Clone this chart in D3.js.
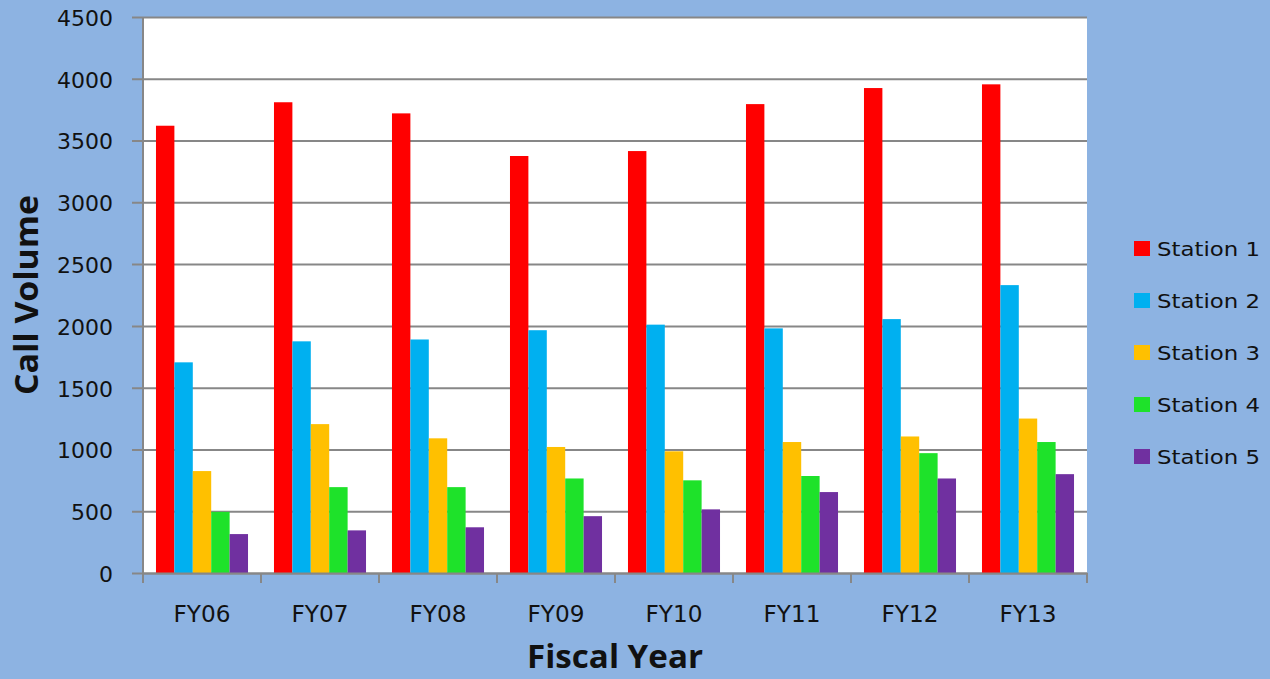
<!DOCTYPE html>
<html>
<head>
<meta charset="utf-8">
<script src="https://cdn.jsdelivr.net/npm/d3@7"></script>
<style>
	body { margin: 0; background: #8DB3E2; }
	svg { display: block; }
</style>
</head>
<body>
<div id="chart"></div>
<script>
const years = ["FY06", "FY07", "FY08", "FY09", "FY10", "FY11", "FY12", "FY13"]
const stations = ["Station 1", "Station 2", "Station 3", "Station 4", "Station 5"]
const station1 = [3620, 3810, 3720, 3375, 3415, 3795, 3925, 3955]
const station2 = [1705, 1875, 1890, 1965, 2010, 1980, 2055, 2330]
const station3 = [825, 1205, 1090, 1020, 985, 1060, 1105, 1250]
const station4 = [495, 695, 695, 765, 750, 785, 970, 1060]
const station5 = [315, 345, 370, 460, 515, 655, 765, 800]
const y_ticks = [0, 500, 1000, 1500, 2000, 2500, 3000, 3500, 4000, 4500]
const colours = ["#FF0000", "#00B0F0", "#FFC000", "#1EE22A", "#7030A0"]

const width = 1270
const height = 679
const plot_left = 143
const plot_right = 1087
const plot_top = 17
const plot_bottom = 573

var series = [station1, station2, station3, station4, station5]
var rows = []
years.forEach((yr, i) => {
	stations.forEach((st, j) => {
		rows.push({year: yr, station: st, value: series[j][i]})
	})
})

var svg = d3.select("#chart")
	.append("svg")
	.attr("width", width)
	.attr("height", height);

svg.append("rect")
	.attr("width", width)
	.attr("height", height)
	.attr("fill", "#8DB3E2");

var x0 = d3.scaleBand()
	.domain(years)
	.range([plot_left, plot_right])
	.padding(0);

var x1 = d3.scaleBand()
	.domain(stations)
	.range([x0.bandwidth()*0.11, x0.bandwidth()*0.89])
	.padding(0);

var y = d3.scaleLinear()
	.domain([0, 4500])
	.range([plot_bottom, plot_top]);

var colour = d3.scaleOrdinal()
	.domain(stations)
	.range(colours);

// white plot area
svg.append("rect")
	.attr("x", plot_left)
	.attr("y", plot_top)
	.attr("width", plot_right-plot_left)
	.attr("height", plot_bottom-plot_top)
	.attr("fill", "white");

// y axis: gridlines plus outside ticks
var yaxis = svg.append("g")
	.attr("transform", `translate(${plot_left},0)`)
	.call(d3.axisLeft(y)
		.tickValues(y_ticks)
		.tickSizeInner(-(plot_right-plot_left))
		.tickSizeOuter(0)
		.tickPadding(30)
		.tickFormat(d3.format("d")));
yaxis.select(".domain").remove();
yaxis.selectAll(".tick line")
	.attr("x1", -11)
	.attr("stroke", "#878787")
	.attr("stroke-width", 2);
yaxis.selectAll(".tick text")
	.attr("font-family", "DejaVu Sans")
	.attr("font-size", "22px")
	.attr("fill", "#111")
	.attr("dy", "0.38em");

// bars
svg.append("g")
	.selectAll("rect")
	.data(rows)
	.enter().append("rect")
	.attr("x", d => x0(d.year)+x1(d.station))
	.attr("y", d => y(d.value))
	.attr("width", x1.bandwidth())
	.attr("height", d => y(0)-y(d.value))
	.attr("fill", d => colour(d.station));

// left axis line
svg.append("line")
	.attr("x1", plot_left)
	.attr("x2", plot_left)
	.attr("y1", plot_top)
	.attr("y2", plot_bottom)
	.attr("stroke", "#878787")
	.attr("stroke-width", 2);

// x axis with ticks at category boundaries
var xaxis = svg.append("g")
	.attr("transform", `translate(0,${plot_bottom})`)
	.call(d3.axisBottom(x0).tickSize(0).tickPadding(33));
xaxis.select(".domain")
	.attr("stroke", "#878787")
	.attr("stroke-width", 2);
xaxis.selectAll(".tick text")
	.attr("font-family", "DejaVu Sans")
	.attr("font-size", "23px")
	.attr("fill", "#111")
	.attr("textLength", 57)
	.attr("lengthAdjust", "spacingAndGlyphs");

var boundaries = years.map(d => x0(d)).concat([plot_right])
svg.selectAll(".xtick")
	.data(boundaries)
	.enter().append("line")
	.attr("class", "xtick")
	.attr("x1", d => d)
	.attr("x2", d => d)
	.attr("y1", plot_bottom)
	.attr("y2", plot_bottom+10)
	.attr("stroke", "#878787")
	.attr("stroke-width", 2);

// axis titles
svg.append("text")
	.attr("x", (plot_left+plot_right)/2)
	.attr("y", 668)
	.attr("text-anchor", "middle")
	.attr("font-family", "Open Sans")
	.attr("font-weight", "bold")
	.attr("font-size", "32px")
	.attr("fill", "#111")
	.attr("textLength", 176)
	.attr("lengthAdjust", "spacingAndGlyphs")
	.text("Fiscal Year");

svg.append("text")
	.attr("transform", `translate(38,${(plot_top+plot_bottom)/2}) rotate(-90)`)
	.attr("text-anchor", "middle")
	.attr("font-family", "Open Sans")
	.attr("font-weight", "bold")
	.attr("font-size", "32px")
	.attr("fill", "#111")
	.attr("textLength", 200)
	.attr("lengthAdjust", "spacingAndGlyphs")
	.text("Call Volume");

// legend
var legend = svg.selectAll(".legend")
	.data(stations)
	.enter().append("g")
	.attr("class", "legend")
	.attr("transform", (d, i) => `translate(1134,${241+i*52})`);

legend.append("rect")
	.attr("width", 16)
	.attr("height", 15)
	.attr("fill", d => colour(d));

legend.append("text")
	.attr("x", 23)
	.attr("y", 15)
	.attr("font-family", "DejaVu Sans")
	.attr("font-size", "20px")
	.attr("fill", "#111")
	.attr("textLength", 103)
	.attr("lengthAdjust", "spacingAndGlyphs")
	.text(d => d);
</script>
</body>
</html>
